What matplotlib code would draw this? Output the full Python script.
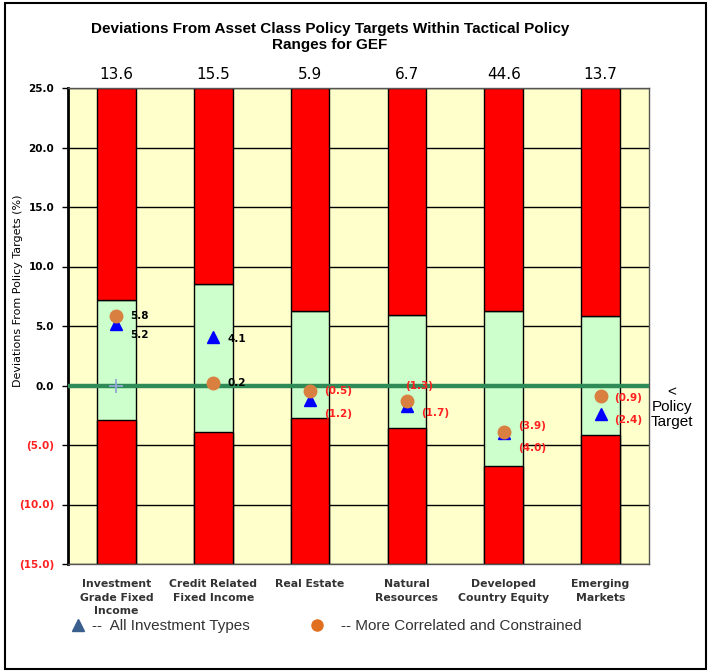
import numpy as np
import matplotlib.pyplot as plt
from matplotlib.patches import Rectangle

# data
categories = ["Investment\nGrade Fixed\nIncome", "Credit Related\nFixed Income", "Real Estate",
              "Natural\nResources", "Developed\nCountry Equity", "Emerging\nMarkets"]
top_numbers = ["13.6", "15.5", "5.9", "6.7", "44.6", "13.7"]
range_upper = [7.2, 8.5, 6.3, 5.9, 6.3, 5.8]
range_lower = [-2.9, -3.9, -2.7, -3.6, -6.8, -4.2]
all_types = [5.2, 4.1, -1.2, -1.7, -4.0, -2.4]
correlated = [5.8, 0.2, -0.5, -1.3, -3.9, -0.9]
policy_mark = [0.0]  # only shown for the first category
y_min, y_max = -15, 25

# label offsets (points) for the marker labels
circ_off = [(10, 0), (10, 0), (10, 0), (-1, 11), (10, 4), (10, -1)]
tri_off = [(10, -8), (10, -2), (10, -10), (10, -5), (10, -11), (10, -4)]


def fmt(v):
    return f"{v:.1f}" if v >= 0 else f"({abs(v):.1f})"


fig = plt.figure(figsize=(7.09, 6.71), dpi=100)
ax = fig.add_axes([68/709, 1-564/671, 581/709, 476/671])
ax.set_facecolor("#FFFFCC")

x = np.arange(len(categories))
w = 0.4
ax.bar(x, np.array(range_upper) - y_min, bottom=y_min, width=w, color="#CCFFCC",
       edgecolor="black", linewidth=1, zorder=2)
ax.bar(x, y_max - np.array(range_upper), bottom=range_upper, width=w, color="#FF0000",
       edgecolor="black", linewidth=1, zorder=2)
ax.bar(x, np.array(range_lower) - y_min, bottom=y_min, width=w, color="#FF0000",
       edgecolor="black", linewidth=1, zorder=2)

ax.set_xlim(-0.5, len(categories) - 0.5)
ax.set_ylim(y_min, y_max)
ax.set_yticks(np.arange(y_min, y_max + 1, 5))
ax.yaxis.grid(True, color="black", linewidth=1)
ax.set_axisbelow(True)

ax.axhline(0, color="#2E8B57", linewidth=3.2, zorder=3)

ax.plot(x, all_types, "^", color="#0000FF", markersize=8, linestyle="none", zorder=4)
ax.plot(x, correlated, "o", color="#D98040", markersize=9, linestyle="none", zorder=5)
ax.plot(x[:1], policy_mark, "+", color="#8FA8D8", markersize=10, mew=1.3, zorder=5)

for i in range(len(categories)):
    for v, off in ((correlated[i], circ_off[i]), (all_types[i], tri_off[i])):
        ax.annotate(fmt(v), (x[i], v), xytext=off, textcoords="offset points",
                    ha="left", va="center", fontsize=7.5, fontweight="bold",
                    color="black" if v >= 0 else "#FF2020", zorder=6)
    ax.text(x[i], y_max + 0.5, top_numbers[i], ha="center", va="bottom", fontsize=11)

ax.set_xticks(x)
ax.set_xticklabels(categories, fontsize=7.8, fontweight="bold", color="#333333",
                   linespacing=1.45, va="top")
ax.tick_params(axis="x", length=0, pad=11)
ax.tick_params(axis="y", length=4, width=1, pad=6)
ax.set_yticklabels([fmt(v) for v in ax.get_yticks()], fontsize=7.5, fontweight="bold")
for lab, v in zip(ax.get_yticklabels(), ax.get_yticks()):
    lab.set_color("black" if v >= 0 else "#FF2020")

ax.set_ylabel("Deviations From Policy Targets (%)", fontsize=8,
              family=["Liberation Sans Narrow", "DejaVu Sans"])
ax.yaxis.set_label_coords(-0.078, (564 - 291) / 476)

ax.spines["left"].set_linewidth(2)
for s in ("top", "right", "bottom"):
    ax.spines[s].set_color("#555555")
    ax.spines[s].set_linewidth(1)

fig.text(330/709, 1-37/671, "Deviations From Asset Class Policy Targets Within Tactical Policy\nRanges for GEF",
         ha="center", va="center", fontsize=11, fontweight="bold",
         family=["Liberation Sans", "DejaVu Sans"], linespacing=1.15)

fig.text(672/709, 1-407/671, "<\nPolicy\nTarget", ha="center", va="center", fontsize=11,
         family=["Liberation Sans", "DejaVu Sans"], linespacing=1.1)

# legend drawn by hand under the chart
fig.lines.append(plt.Line2D([78/709], [1-625/671], marker="^", color="#3A5F8F",
                            markersize=8, transform=fig.transFigure))
fig.text(92/709, 1-626/671, "--  All Investment Types", ha="left", va="center", fontsize=11,
         family=["Liberation Sans", "DejaVu Sans"], color="#333333")
fig.lines.append(plt.Line2D([317/709], [1-625/671], marker="o", color="#E07020",
                            markersize=8, transform=fig.transFigure))
fig.text(341/709, 1-626/671, "-- More Correlated and Constrained", ha="left", va="center",
         fontsize=11, family=["Liberation Sans", "DejaVu Sans"], color="#333333")

fig.patches.append(Rectangle((5/709, 2/671), 701/709, 666/671, transform=fig.transFigure,
                             fill=False, edgecolor="black", linewidth=1.5))

fig.savefig("out.png", dpi=100)
